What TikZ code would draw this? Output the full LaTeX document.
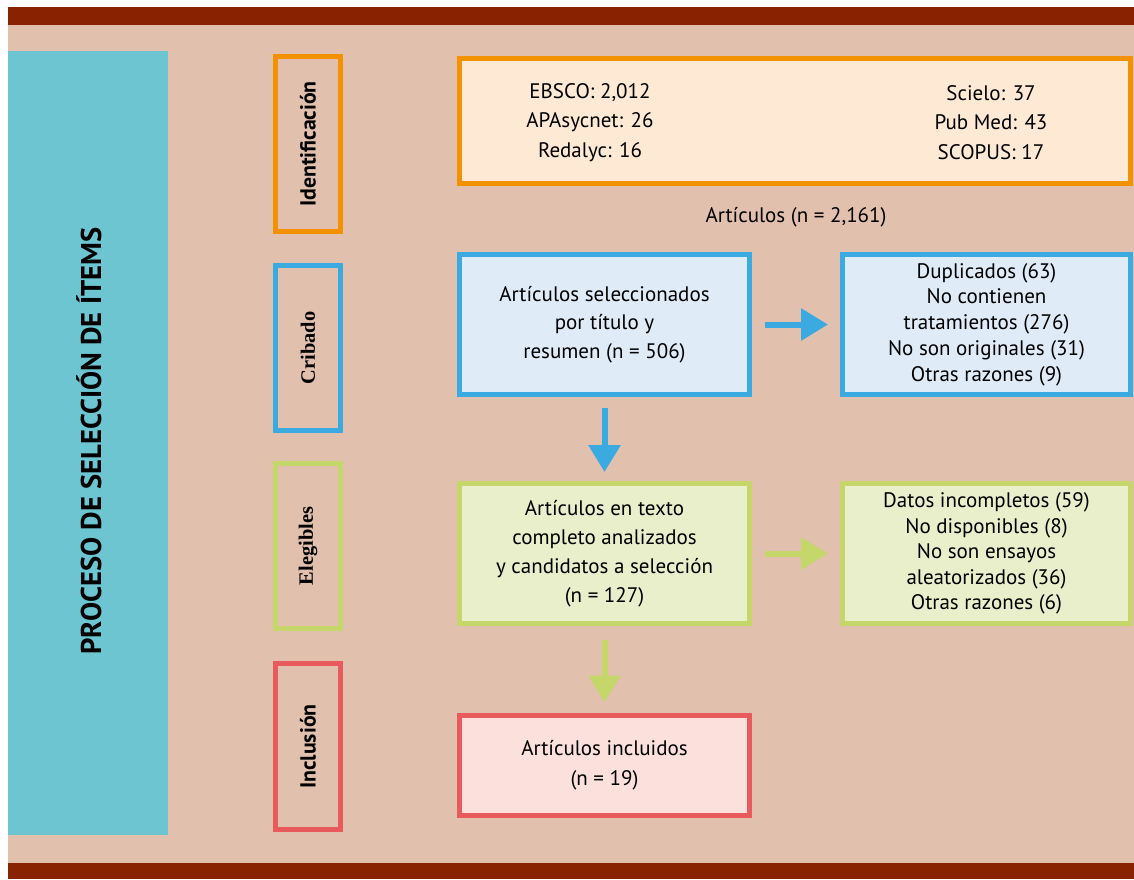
\documentclass[tikz,border=0pt]{standalone}
\usepackage{fontspec}
\setmainfont{PT Sans}
\newfontfamily\labserif{Liberation Serif}
\usetikzlibrary{arrows.meta}
\definecolor{bandred}{HTML}{882200}
\definecolor{peach}{HTML}{E2C0AE}
\definecolor{panelcyan}{HTML}{6DC5D2}
\definecolor{cOrange}{HTML}{F39200}
\definecolor{fOrange}{HTML}{FDE9D4}
\definecolor{cBlue}{HTML}{3AAAE0}
\definecolor{fBlue}{HTML}{DFEBF7}
\definecolor{cGreen}{HTML}{C5D66A}
\definecolor{fGreen}{HTML}{EAEFCB}
\definecolor{cRed}{HTML}{E85A5B}
\definecolor{fRed}{HTML}{FBE0DC}
\begin{document}
\begin{tikzpicture}[x=0.5pt,y=-0.5pt,
  box/.style={draw, line width=2.5pt, inner sep=0pt, align=center,
    minimum width=145pt, minimum height=70pt},
  txt/.style={align=center, inner sep=0pt},
  stagebox/.style={draw, line width=2.5pt, rotate=90, inner sep=0pt,
    minimum height=32.5pt},
  flowarrow/.style={line width=3pt, -{Triangle[length=13.5pt,width=15.5pt]}}
]
\useasboundingbox (0,0) rectangle (1134,879);
\fill[white] (0,0) rectangle (1134,879);
\fill[peach] (8,25) rectangle (1134,863);
\fill[bandred] (8,7) rectangle (1134,25);
\fill[bandred] (8,863) rectangle (1134,879);
\node[fill=panelcyan, inner sep=0pt, minimum width=80pt, minimum height=392pt] (panel) at (88,443) {};
\node[rotate=90, font=\bfseries\fontsize{14.3}{16}\selectfont] (title) at (89,441) {PROCESO DE SELECCIÓN DE ÍTEMS};

% stage labels
\node[stagebox, draw=cOrange, minimum width=87.5pt, font=\bfseries\fontsize{10.9}{12}\selectfont] (sid) at (308,144) {Identificación};
\node[stagebox, draw=cBlue, minimum width=82.5pt, font=\labserif\bfseries\fontsize{10.2}{12}\selectfont] (scri) at (308,348) {Cribado};
\node[stagebox, draw=cGreen, minimum width=82.5pt, font=\labserif\bfseries\fontsize{10.2}{12}\selectfont] (seleg) at (308,546) {Elegibles};
\node[stagebox, draw=cRed, minimum width=83pt, font=\bfseries\fontsize{10.9}{12}\selectfont] (sinc) at (308,746.5) {Inclusión};

% identification
\node[box, draw=cOrange, fill=fOrange, minimum width=335.5pt, minimum height=62.5pt] (ident) at (795,121) {};
\node[txt, font=\fontsize{10.5}{14.75}\selectfont] (colL) at (590,122.5) {EBSCO: 2,012\\APAsycnet: 26\\Redalyc: 16};
\node[txt, font=\fontsize{10.5}{14.75}\selectfont] (colR) at (991,122.5) {Scielo: 37\\Pub Med: 43\\SCOPUS: 17};
\node[txt, font=\fontsize{10.5}{13}\selectfont] (total) at (796,217) {Artículos (n = 2,161)};

% screening
\node[box, draw=cBlue, fill=fBlue, font=\fontsize{10.5}{14.25}\selectfont] (scr) at (604.5,324.5) {Artículos seleccionados\\por título y\\resumen (n = 506)};
\node[box, draw=cBlue, fill=fBlue, minimum width=144pt, font=\fontsize{10.5}{12.9}\selectfont] (excl1) at (986.5,324.5) {Duplicados (63)\\No contienen\\tratamientos (276)\\No son originales (31)\\Otras razones (9)};

% eligibility
\node[box, draw=cGreen, fill=fGreen, font=\fontsize{10.5}{14.5}\selectfont] (elig) at (604.5,553.5) {Artículos en texto\\completo analizados\\y candidatos a selección\\(n = 127)};
\node[box, draw=cGreen, fill=fGreen, minimum width=144pt, font=\fontsize{10.5}{12.75}\selectfont] (excl2) at (986.5,553.5) {Datos incompletos (59)\\No disponibles (8)\\No son ensayos\\aleatorizados (36)\\Otras razones (6)};

% inclusion
\node[box, draw=cRed, fill=fRed, minimum height=50pt, font=\fontsize{10.5}{15}\selectfont] (inc) at (604.5,765) {Artículos incluidos\\(n = 19)};

% arrows
\draw[flowarrow, cBlue, shorten <=6.5pt, shorten >=6pt] (scr.east) -- (excl1.west);
\draw[flowarrow, cBlue, shorten <=5.5pt, shorten >=4.5pt] (scr.south) -- (elig.north);
\draw[flowarrow, cGreen, shorten <=6.5pt, shorten >=6pt] (elig.east) -- (excl2.west);
\draw[flowarrow, cGreen, shorten <=7pt, shorten >=5pt] (elig.south) -- (inc.north);
\end{tikzpicture}
\end{document}
